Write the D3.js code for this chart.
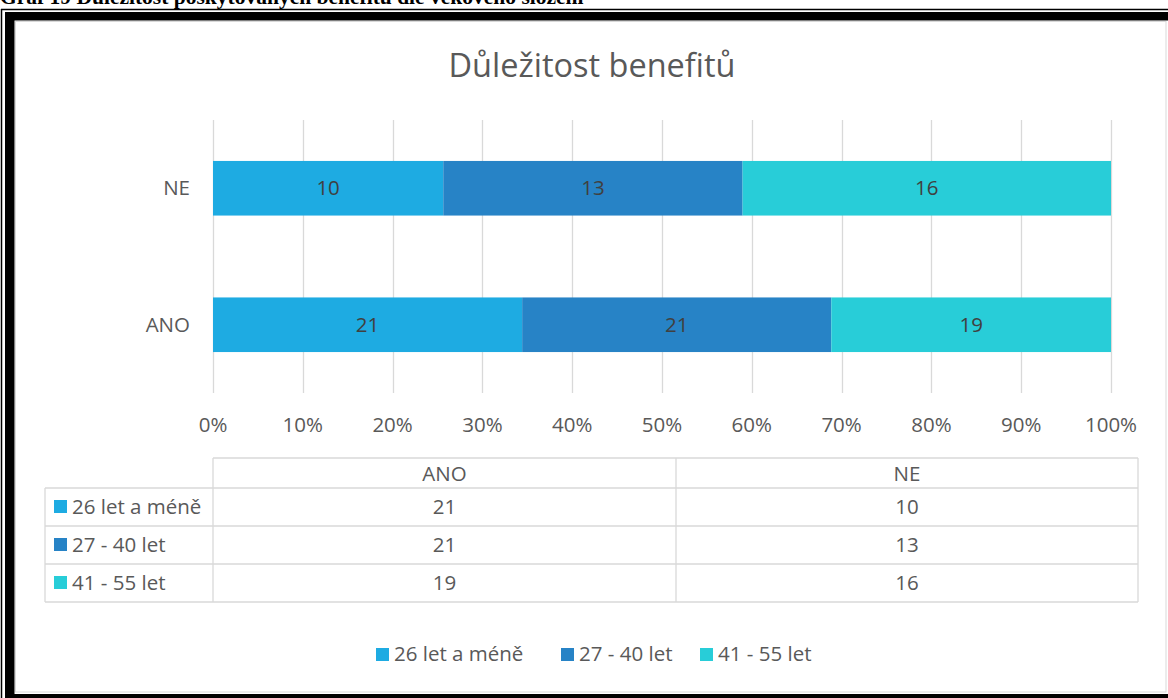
<!DOCTYPE html>
<html>
<head>
<meta charset="utf-8">
<script src="https://cdn.jsdelivr.net/npm/d3@7"></script>
<style>
  html, body { margin: 0; padding: 0; background: #fff; }
  svg text { font-family: "Open Sans", "Noto Sans", sans-serif; }
</style>
</head>
<body>
<div id="chart"></div>
<script>
"use strict";

/* <!-- Data --> */
var categories = ["NE", "ANO"];
var seriesNames = ["26 let a méně", "27 - 40 let", "41 - 55 let"];
var seriesColors = ["#1eabe2", "#2783c6", "#28cdd8"];
var valuesNE = [10, 13, 16];
var valuesANO = [21, 21, 19];
var tickLabels = ["0%", "10%", "20%", "30%", "40%", "50%", "60%", "70%", "80%", "90%", "100%"];
var tableColumns = ["ANO", "NE"];
var chartTitle = "Důležitost benefitů";
var caption = "Graf 19 Důležitost poskytovaných benefitů dle věkového složení";

var W = 1168, H = 698, FS = "20.5px";
var svg = d3.select("#chart").append("svg").attr("width", W).attr("height", H);

/* <!-- Document caption, cut at the top as in the scan --> */
svg.append("text").attr("x", 0).attr("y", 4)
  .style("font-family", "'Liberation Serif', serif").style("font-weight", "bold")
  .style("font-size", "21.5px").attr("fill", "#000").text(caption);

/* <!-- Page frame --> */
svg.append("line").attr("x1", 1).attr("x2", W).attr("y1", 9.5).attr("y2", 9.5).attr("stroke", "#000").attr("stroke-width", 1.5);
svg.append("line").attr("x1", 1.5).attr("x2", 1.5).attr("y1", 9).attr("y2", H).attr("stroke", "#000").attr("stroke-width", 1.5);
svg.append("rect").attr("x", 5).attr("y", 12).attr("width", W - 5).attr("height", 8.5).attr("fill", "#000");
svg.append("rect").attr("x", 5).attr("y", 12).attr("width", 9.5).attr("height", H - 12).attr("fill", "#000");
svg.append("rect").attr("x", 5).attr("y", 694).attr("width", W - 5).attr("height", 4).attr("fill", "#000");
svg.append("rect").attr("x", 15.5).attr("y", 21.5).attr("width", 1150.5).attr("height", 670.5)
  .attr("fill", "#fff").attr("stroke", "#d9d9d9").attr("stroke-width", 1);

/* <!-- Title --> */
svg.append("text").attr("x", 592).attr("y", 77).attr("text-anchor", "middle")
  .style("font-size", "32.5px").attr("fill", "#595959").text(chartTitle);

/* <!-- Scales --> */
var x = d3.scaleLinear().domain([0, 1]).range([213, 1111]);
var y = d3.scaleBand().domain(categories).range([120, 393]).paddingInner(0.6).paddingOuter(0.3);

/* <!-- Gridlines --> */
svg.append("g").selectAll("line").data(d3.range(tickLabels.length)).enter().append("line")
  .attr("x1", i => Math.round(x(i / 10)) + 0.5).attr("x2", i => Math.round(x(i / 10)) + 0.5)
  .attr("y1", 120).attr("y2", 393).attr("stroke", "#d9d9d9").attr("stroke-width", 1.3);

/* <!-- Stacked bars --> */
var rows = [valuesNE, valuesANO];
var stacks = rows.map((vals, r) => {
  var total = d3.sum(vals), acc = 0;
  return vals.map((v, i) => {
    var s = { cat: categories[r], i: i, v: v, x0: acc / total };
    acc += v;
    s.x1 = acc / total;
    return s;
  });
});
var segs = [].concat(...stacks);

svg.append("g").selectAll("rect").data(segs).enter().append("rect")
  .attr("x", d => x(d.x0)).attr("width", d => x(d.x1) - x(d.x0))
  .attr("y", d => y(d.cat)).attr("height", y.bandwidth())
  .attr("fill", d => seriesColors[d.i]);

svg.append("g").selectAll("text").data(segs).enter().append("text")
  .attr("x", d => (x(d.x0) + x(d.x1)) / 2).attr("y", d => y(d.cat) + y.bandwidth() / 2 + 7)
  .attr("text-anchor", "middle").style("font-size", FS).attr("fill", "#404040")
  .text(d => d.v);

/* <!-- Category labels --> */
svg.append("g").selectAll("text").data(categories).enter().append("text")
  .attr("x", 190).attr("y", d => y(d) + y.bandwidth() / 2 + 7)
  .attr("text-anchor", "end").style("font-size", FS).attr("fill", "#595959").text(d => d);

/* <!-- Value axis labels --> */
svg.append("g").selectAll("text").data(tickLabels).enter().append("text")
  .attr("x", (d, i) => x(i / 10)).attr("y", 432)
  .attr("text-anchor", "middle").style("font-size", FS).attr("fill", "#595959").text(d => d);

/* <!-- Data table --> */
var colX = [213, 676, 1138];
var rowY = [458, 488, 526, 564, 602];
var tg = svg.append("g").attr("stroke", "#d9d9d9").attr("stroke-width", 1.3);
tg.append("line").attr("x1", colX[0]).attr("x2", colX[2]).attr("y1", rowY[0]).attr("y2", rowY[0]);
rowY.slice(1).forEach(yy => tg.append("line").attr("x1", 45).attr("x2", colX[2]).attr("y1", yy).attr("y2", yy));
tg.append("line").attr("x1", 45).attr("x2", 45).attr("y1", rowY[1]).attr("y2", rowY[4]);
colX.forEach(xx => tg.append("line").attr("x1", xx).attr("x2", xx).attr("y1", rowY[0]).attr("y2", rowY[4]));

svg.append("g").selectAll("text").data(tableColumns).enter().append("text")
  .attr("x", (d, i) => (colX[i] + colX[i + 1]) / 2).attr("y", 481)
  .attr("text-anchor", "middle").style("font-size", FS).attr("fill", "#595959").text(d => d);

seriesNames.forEach((name, i) => {
  var cy = (rowY[i + 1] + rowY[i + 2]) / 2;
  svg.append("rect").attr("x", 54).attr("y", cy - 7).attr("width", 13).attr("height", 13).attr("fill", seriesColors[i]);
  svg.append("text").attr("x", 72).attr("y", cy + 7).style("font-size", FS).attr("fill", "#595959").text(name);
  [valuesANO[i], valuesNE[i]].forEach((v, c) => {
    svg.append("text").attr("x", (colX[c] + colX[c + 1]) / 2).attr("y", cy + 7)
      .attr("text-anchor", "middle").style("font-size", FS).attr("fill", "#595959").text(v);
  });
});

/* <!-- Legend --> */
var legendX = [376, 561, 700];
var lg = svg.append("g").selectAll("g").data(seriesNames).enter().append("g")
  .attr("transform", (d, i) => `translate(${legendX[i]},654)`);
lg.append("rect").attr("x", 0).attr("y", -6).attr("width", 13).attr("height", 13).attr("fill", (d, i) => seriesColors[i]);
lg.append("text").attr("x", 18).attr("y", 7).style("font-size", FS).attr("fill", "#595959").text(d => d);
</script>
</body>
</html>
